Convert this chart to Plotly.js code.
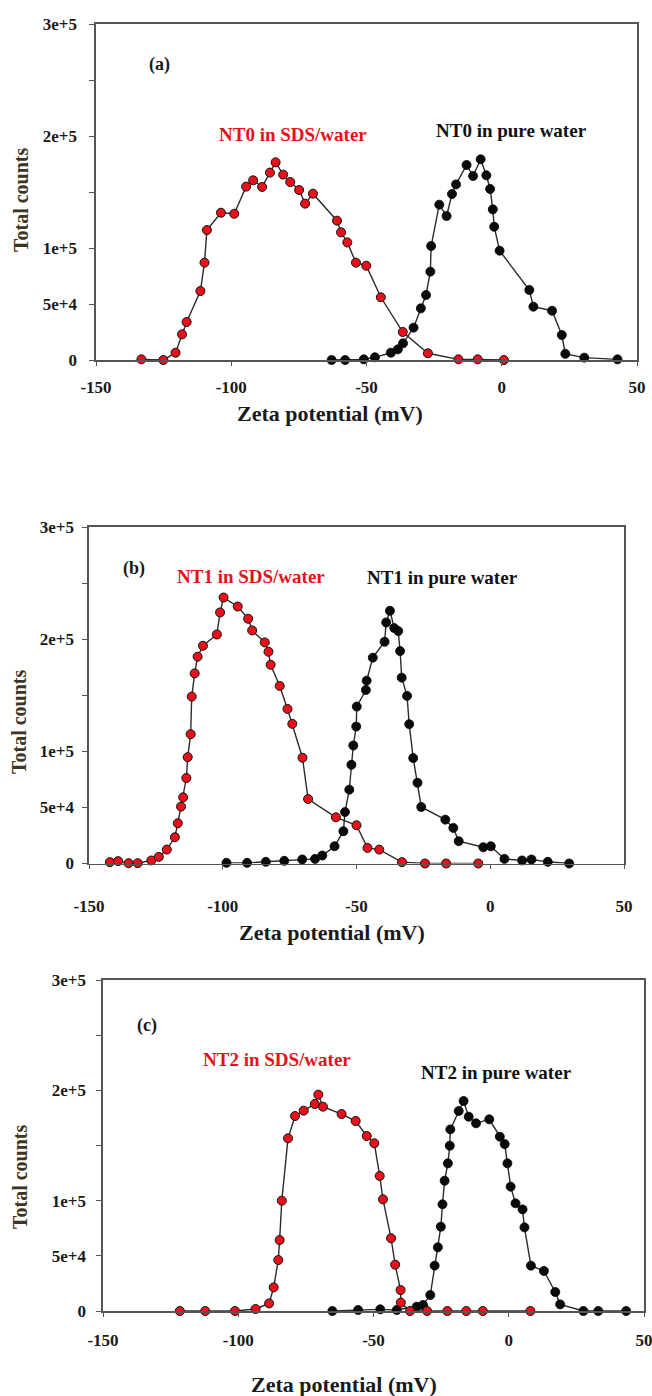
<!DOCTYPE html>
<html>
<head>
<meta charset="utf-8">
<script src="https://cdn.plot.ly/plotly-3.0.1.min.js"></script>
<style>html,body{margin:0;padding:0;background:#fff;}#chart{width:652px;height:1396px;}</style>
</head>
<body>
<div id="chart"></div>
<script>
// ---- Data ----
// Panel (a): NT0
const xA_sds  = [-133.2,-125.1,-120.6,-118.2,-116.5,-111.4,-109.9,-109.0,-103.8,-98.9,-94.5,-91.9,-88.6,-85.7,-83.6,-80.8,-78.2,-74.9,-72.7,-69.8,-60.9,-59.4,-57.1,-53.9,-50.1,-44.7,-36.6,-27.3,-16.0,-8.9,0.8];
const yA_sds  = [600,0,6500,22900,33900,61600,86900,116000,131500,130600,154800,160400,154500,167300,176500,165500,158900,151800,139600,148500,124400,114000,105000,86900,84200,56000,25000,6000,600,600,0];
const xA_pure = [-62.9,-57.9,-51.0,-46.9,-41.0,-38.4,-36.5,-32.6,-29.9,-28.0,-26.4,-26.1,-23.1,-20.4,-18.4,-16.9,-13.0,-10.6,-7.8,-5.7,-4.3,-3.3,-2.8,-0.8,10.2,11.7,18.6,22.2,23.5,30.5,42.8];
const yA_pure = [0,0,600,2400,6500,9500,14900,28900,46100,58000,78900,101800,138700,128600,148200,156800,174100,164300,179200,164900,152700,134500,119000,97600,62500,47600,44000,22300,5500,2100,600];

// Panel (b): NT1
const xB_sds  = [-142.2,-139.1,-135.2,-131.8,-126.7,-123.9,-120.9,-117.9,-116.8,-115.6,-114.8,-113.6,-113.1,-112.0,-111.6,-110.5,-109.4,-107.4,-102.2,-101.0,-99.7,-94.4,-90.5,-89.0,-84.3,-82.9,-82.1,-78.7,-75.8,-74.0,-70.2,-68.1,-57.7,-50.0,-45.9,-41.5,-33.0,-24.4,-16.5,-4.5];
const yB_sds  = [1200,2100,300,300,2700,5900,12400,23400,35900,50700,59000,76200,94800,115300,148800,169500,184400,194100,204200,223800,237100,229100,218200,207800,197100,188800,177200,158300,137800,124500,94300,57500,41200,34100,13900,12400,1200,0,0,0];
const xB_pure = [-98.6,-90.9,-83.9,-77.0,-70.3,-65.5,-62.8,-58.2,-54.9,-54.3,-52.7,-51.9,-51.2,-50.1,-49.9,-46.5,-46.2,-43.9,-39.5,-38.9,-37.5,-35.9,-34.4,-33.7,-33.1,-31.1,-30.3,-28.8,-27.2,-25.8,-16.8,-13.8,-11.8,-2.6,0.2,5.3,11.9,15.4,21.5,29.5];
const yB_pure = [600,600,1500,2400,3600,4100,7100,15400,28800,45900,65800,88000,105200,122100,139900,154700,163000,183500,197700,214900,225300,209900,207200,189400,165700,149400,124200,94000,72000,50400,39100,31700,19900,14500,15400,4100,2700,3600,1500,0];

// Panel (c): NT2
const xC_sds  = [-121.6,-112.2,-101.2,-93.6,-88.6,-86.9,-85.2,-84.7,-83.9,-81.6,-79.0,-75.8,-71.7,-70.4,-68.7,-61.8,-56.6,-52.5,-49.7,-47.7,-46.5,-43.5,-42.0,-40.0,-39.9,-36.5,-30.2,-22.7,-15.7,-9.6,8.0];
const yC_sds  = [0,0,0,1800,6900,21400,46200,64300,100000,156500,176700,181600,187600,196100,185200,178500,172200,158600,152000,122400,101200,65900,42000,19000,7600,0,0,0,0,0,0];
const xC_pure = [-65.2,-55.7,-47.5,-41.4,-34.0,-31.7,-29.0,-27.4,-26.2,-25.1,-24.5,-23.7,-22.5,-21.8,-21.6,-18.5,-16.7,-14.8,-12.1,-7.2,-3.3,-1.5,-0.5,0.7,2.5,5.1,5.8,8.2,13.0,17.2,19.0,27.6,33.1,43.4];
const yC_pure = [0,900,1500,900,3900,5400,14500,41100,57700,76400,96700,118100,133800,149800,164600,181300,190300,176100,170100,173700,158000,151300,133800,112700,97600,92100,75800,41100,36300,17200,6000,0,0,0];

// Tick labels
const yTickVals = [0,50000,100000,150000,200000,250000,300000];
const yTickText = ['0','5e+4','1e+5','','2e+5','','3e+5'];
const xTickVals = [-150,-100,-50,0,50];
const xTickText = ['-150','-100','-50','0','50'];

const panelLetters = ['(a)','(b)','(c)'];
const sdsLabels  = ['NT0 in SDS/water','NT1 in SDS/water','NT2 in SDS/water'];
const pureLabels = ['NT0 in pure water','NT1 in pure water','NT2 in pure water'];
const xTitle = 'Zeta potential (mV)';
const yTitle = 'Total counts';

// ---- Layout geometry (pixels) ----
const W = 652, H = 1396;
const FONT = "'Liberation Serif', 'Times New Roman', Times, serif";
const RED = '#e8101a';
const panels = [
  {l:96,  r:637, t:24,  b:360,  xstand:7,  ystand:9, xt:[330,414],  yt:[21,200],
   letter:[-126.7,263400], sds:[-77,200900],  pure:[3.6,204700]},
  {l:89,  r:624, t:527, b:863.5,xstand:22, ystand:5, xt:[332,932],  yt:[19,722],
   letter:[-133.3,262900], sds:[-89.6,256100], pure:[-18.0,254900]},
  {l:103, r:644, t:980, b:1311, xstand:9,  ystand:7, xt:[344,1384], yt:[20,1177],
   letter:[-133.6,259200], sds:[-85.5,228100], pure:[-4.5,216000]}
];
const series = [
  [xA_sds,yA_sds,xA_pure,yA_pure],
  [xB_sds,yB_sds,xB_pure,yB_pure],
  [xC_sds,yC_sds,xC_pure,yC_pure]
];

const traces = [];
const layout = {
  width: W, height: H,
  margin: {l:0,r:0,t:0,b:0},
  paper_bgcolor: '#fff', plot_bgcolor: '#fff',
  showlegend: false,
  font: {family: FONT, color: '#1a1a1a'},
  annotations: []
};

panels.forEach((p, i) => {
  const n = i === 0 ? '' : String(i + 1);
  const xa = 'x' + n, ya = 'y' + n;
  const [xs, ys, xp, yp] = series[i];
  traces.push({
    x: xp, y: yp, xaxis: xa, yaxis: ya, type: 'scatter', mode: 'lines+markers',
    line: {color: '#2b2b2b', width: 1.4},
    marker: {size: 9, color: '#0a0a0a', line: {color: '#000', width: 0.8}},
    cliponaxis: false
  });
  traces.push({
    x: xs, y: ys, xaxis: xa, yaxis: ya, type: 'scatter', mode: 'lines+markers',
    line: {color: '#2b2b2b', width: 1.4},
    marker: {size: 9, color: RED, line: {color: '#111', width: 1}},
    cliponaxis: false
  });
  layout['xaxis' + n] = {
    domain: [p.l / W, p.r / W], anchor: ya, range: [-150, 50],
    tickmode: 'array', tickvals: xTickVals, ticktext: xTickText,
    ticks: 'outside', ticklen: 4, tickwidth: 1, tickcolor: '#555',
    ticklabelstandoff: p.xstand, ticklabeloverflow: 'allow',
    showline: true, mirror: true, linecolor: '#555', linewidth: 1.6,
    showgrid: false, zeroline: false,
    tickfont: {family: FONT, size: 17, color: '#1a1a1a', weight: 'bold'}
  };
  layout['yaxis' + n] = {
    domain: [1 - p.b / H, 1 - p.t / H], anchor: xa, range: [0, 300000],
    tickmode: 'array', tickvals: yTickVals, ticktext: yTickText,
    ticks: 'outside', ticklen: 5, tickwidth: 1, tickcolor: '#555',
    ticklabelstandoff: p.ystand, ticklabeloverflow: 'allow',
    showline: true, mirror: true, linecolor: '#555', linewidth: 1.6,
    showgrid: false, zeroline: false,
    tickfont: {family: FONT, size: 17, color: '#1a1a1a', weight: 'bold'}
  };
  const ann = layout.annotations;
  ann.push({xref: xa, yref: ya, x: p.letter[0], y: p.letter[1], text: '<b>' + panelLetters[i] + '</b>',
    showarrow: false, font: {family: FONT, size: 18, color: '#1a1a1a'}});
  ann.push({xref: xa, yref: ya, x: p.sds[0], y: p.sds[1], text: '<b>' + sdsLabels[i] + '</b>',
    showarrow: false, font: {family: FONT, size: 19, color: RED}});
  ann.push({xref: xa, yref: ya, x: p.pure[0], y: p.pure[1], text: '<b>' + pureLabels[i] + '</b>',
    showarrow: false, font: {family: FONT, size: 19, color: '#111'}});
  ann.push({xref: 'paper', yref: 'paper', x: p.xt[0] / W, y: 1 - p.xt[1] / H,
    xanchor: 'center', yanchor: 'middle', text: '<b>' + xTitle + '</b>',
    showarrow: false, font: {family: FONT, size: 22, color: '#1a1a1a'}});
  ann.push({xref: 'paper', yref: 'paper', x: p.yt[0] / W, y: 1 - p.yt[1] / H,
    xanchor: 'center', yanchor: 'middle', textangle: -90, text: '<b>' + yTitle + '</b>',
    showarrow: false, font: {family: FONT, size: 20, color: '#3d3424'}});
});

Plotly.newPlot('chart', traces, layout, {staticPlot: true, displayModeBar: false});
</script>
</body>
</html>
